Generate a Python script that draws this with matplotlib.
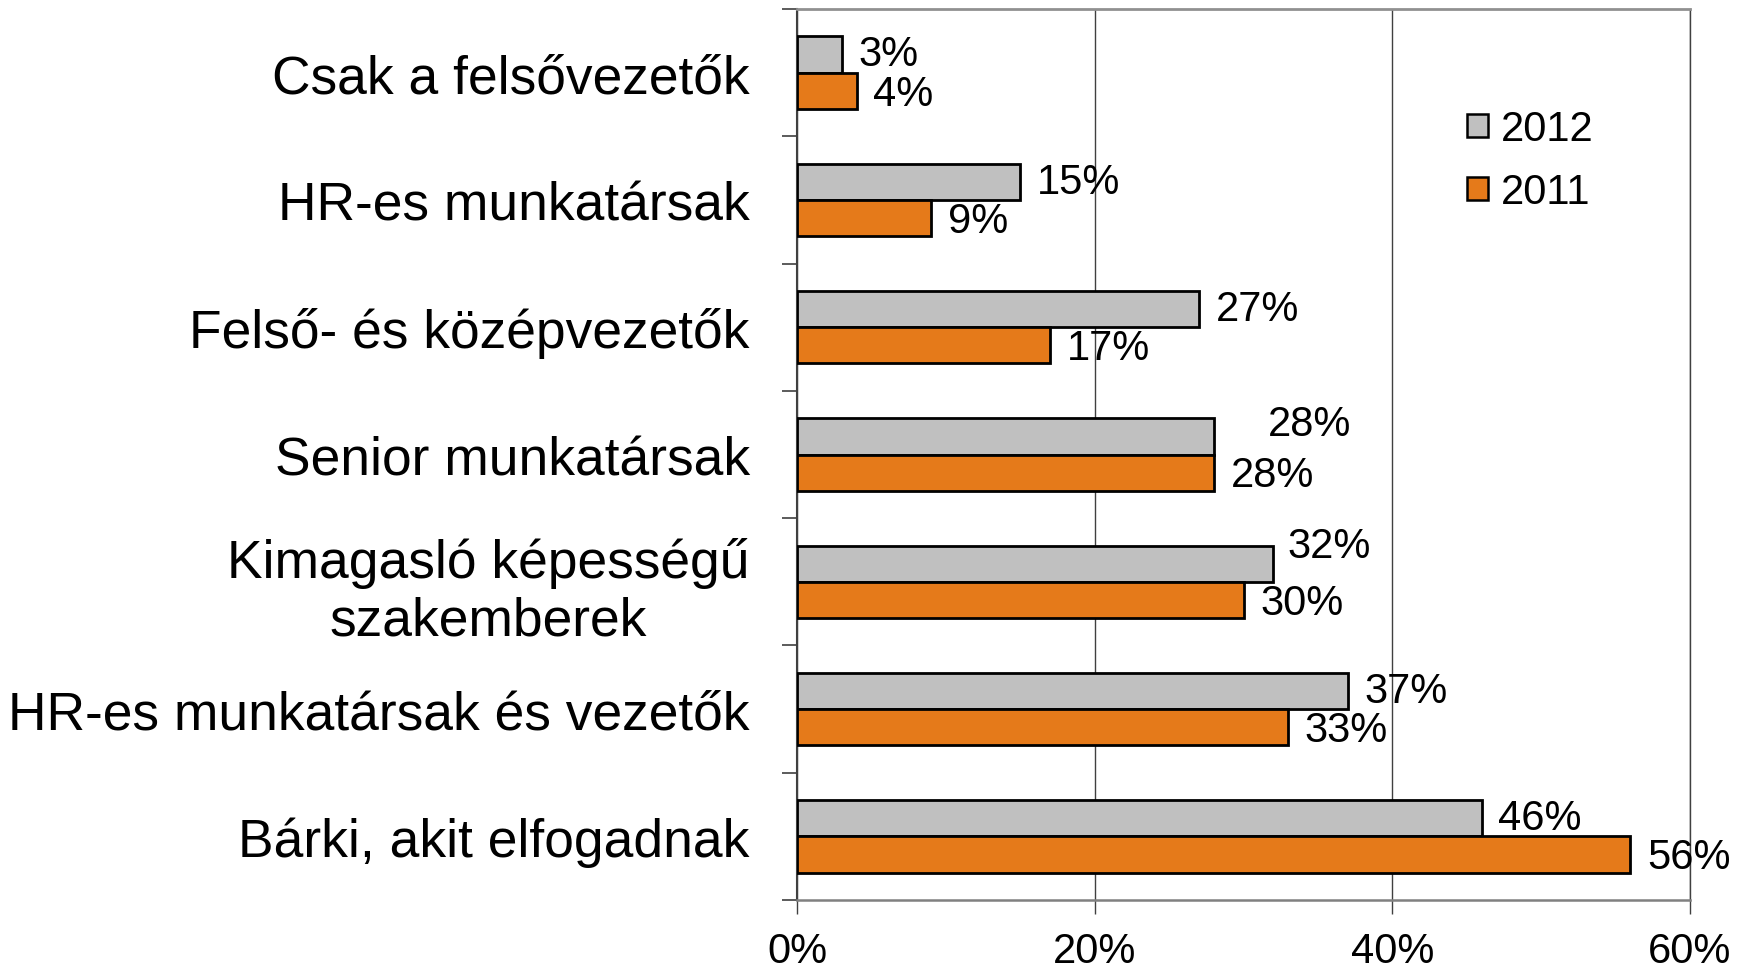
import matplotlib
matplotlib.use('Agg')
import matplotlib.pyplot as plt
import numpy as np
from matplotlib.patches import Patch

plt.rcParams['font.family'] = ['Liberation Sans', 'DejaVu Sans']

categories = [
    "Csak a felsővezetők",
    "HR-es munkatársak",
    "Felső- és középvezetők",
    "Senior munkatársak",
    "Kimagasló képességű\nszakemberek",
    "HR-es munkatársak és vezetők",
    "Bárki, akit elfogadnak",
]
values_2012 = [3, 15, 27, 28, 32, 37, 46]
values_2011 = [4, 9, 17, 28, 30, 33, 56]
series_names = ["2012", "2011"]
x_ticks = [0, 20, 40, 60]
x_ticklabels = ["0%", "20%", "40%", "60%"]

color_2012 = '#C0C0C0'
color_2011 = '#E57A1A'

# label nudges (points) for the few labels that sit off-centre in the original
nudge_2012 = {3: (27, 9), 4: (-2, 13)}

fig = plt.figure(figsize=(17.38, 9.70), dpi=100)
ax = fig.add_axes([0.4586, 0.0711, 0.9724 - 0.4586, 0.9897 - 0.0711])

y = np.arange(len(categories))
h = 0.285
bars_a = ax.barh(y - h / 2, values_2012, height=h, color=color_2012,
                 edgecolor='black', linewidth=2.0, zorder=3)
bars_b = ax.barh(y + h / 2, values_2011, height=h, color=color_2011,
                 edgecolor='black', linewidth=2.0, zorder=3)

for i, (b, v) in enumerate(zip(bars_a, values_2012)):
    dx, dy = nudge_2012.get(i, (0, 0))
    ax.annotate(f"{v}%", (b.get_width(), b.get_y() + b.get_height() / 2),
                xytext=(12 + dx, dy), textcoords='offset points',
                ha='left', va='center', fontsize=30)
for b, v in zip(bars_b, values_2011):
    ax.annotate(f"{v}%", (b.get_width(), b.get_y() + b.get_height() / 2),
                xytext=(12, -2), textcoords='offset points',
                ha='left', va='center', fontsize=30)

ax.set_xlim(0, 60)
ax.set_ylim(len(categories) - 0.5, -0.5)
ax.set_xticks(x_ticks)
ax.set_xticklabels(x_ticklabels, fontsize=30)
ax.xaxis.grid(True, color='#404040', linewidth=1.0, zorder=0)

# category labels centred on groups, ticks on the boundaries
ax.set_yticks(y)
ax.set_yticklabels(categories, fontsize=38.4, linespacing=1.2, multialignment='center')
ax.tick_params(axis='y', which='major', length=0, pad=34)
ax.set_yticks(np.arange(-0.5, len(categories) + 0.5, 1), minor=True)
ax.tick_params(axis='y', which='minor', length=11, width=1.2, color='#404040', direction='out')
ax.tick_params(axis='x', length=10, width=1.0, color='#404040', pad=12)

ax.spines['left'].set_color('#404040')
ax.spines['left'].set_linewidth(1.5)
ax.spines['bottom'].set_color('#808080')
ax.spines['bottom'].set_linewidth(1.8)
ax.spines['top'].set_color('#909090')
ax.spines['top'].set_linewidth(2.0)
ax.spines['right'].set_color('#404040')
ax.spines['right'].set_linewidth(1.0)

handles = [Patch(facecolor=color_2012, edgecolor='black', linewidth=1.8),
           Patch(facecolor=color_2011, edgecolor='black', linewidth=1.8)]
ax.legend(handles, series_names, loc='upper left', bbox_to_anchor=(0.732, 0.906),
          frameon=False, fontsize=30, handlelength=0.5, handleheight=0.5,
          handletextpad=0.3, labelspacing=0.55, borderaxespad=0)

fig.savefig('out.png', dpi=100)
